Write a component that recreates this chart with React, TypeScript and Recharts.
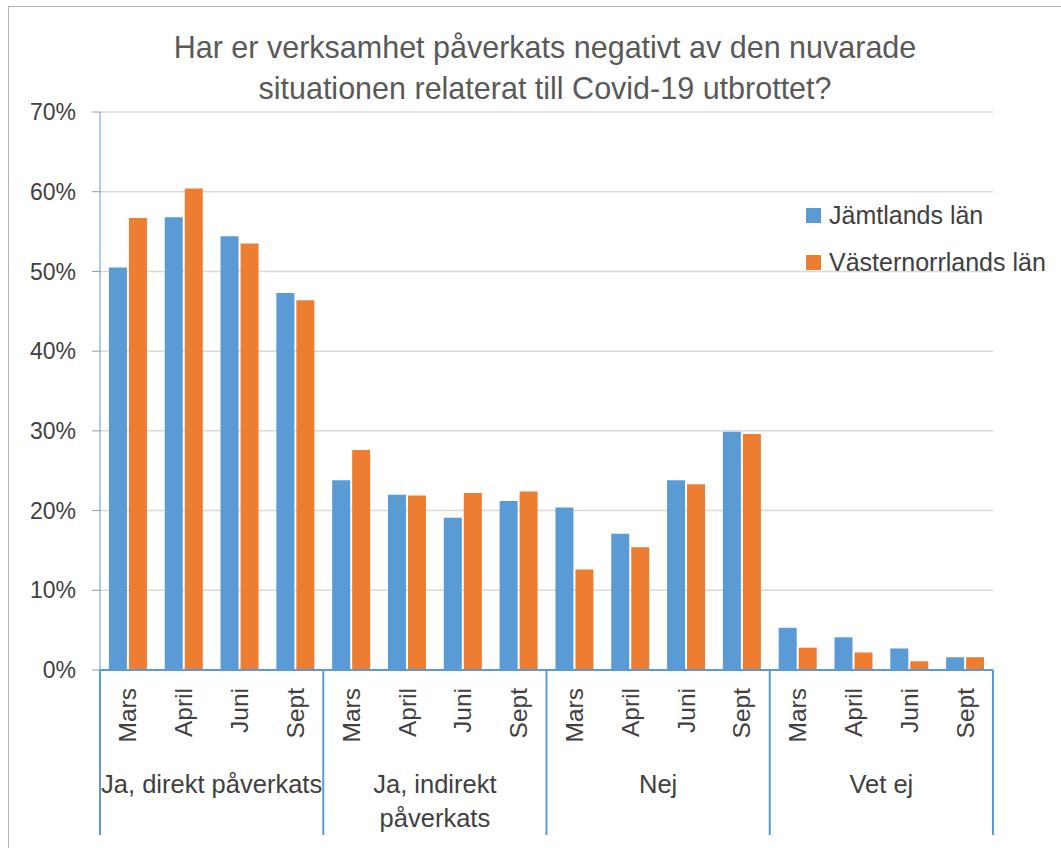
import React from 'react';
import { BarChart, Bar, XAxis, YAxis, CartesianGrid, Legend } from 'recharts';

const groups = ['Ja, direkt påverkats', 'Ja, indirekt\npåverkats', 'Nej', 'Vet ej'];
const months = ['Mars', 'April', 'Juni', 'Sept'];
const jamtland = [50.5, 56.8, 54.4, 47.3, 23.8, 22.0, 19.1, 21.2, 20.4, 17.1, 23.8, 29.9, 5.3, 4.1, 2.7, 1.6];
const vasternorrland = [56.7, 60.4, 53.5, 46.4, 27.6, 21.9, 22.2, 22.4, 12.6, 15.4, 23.3, 29.6, 2.8, 2.2, 1.1, 1.6];
const yTicks = [0, 10, 20, 30, 40, 50, 60, 70];

const data = groups.flatMap((g, gi) =>
  months.map((m, mi) => ({
    key: `${gi}-${m}`,
    month: m,
    group: g,
    jamtland: jamtland[gi * 4 + mi],
    vasternorrland: vasternorrland[gi * 4 + mi],
  }))
);

const FONT = '"Liberation Sans", Arial, sans-serif';
const BLUE = '#5b9bd5';
const ORANGE = '#ed7d31';
const TEXT = '#404040';

const XTick = (props: any) => {
  const { x, y, payload, index, width, visibleTicksCount } = props;
  const half = payload && payload.offset ? payload.offset : width / (2 * (visibleTicksCount || data.length));
  const row = data[index];
  if (!row) return null;
  const mi = index % 4;
  const lines = row.group.split('\n');
  return (
    <g>
      <text
        transform={`translate(${x},${y + 18}) rotate(-90)`}
        textAnchor="end"
        dy="0.35em"
        fontSize={24.5}
        fontFamily={FONT}
        fill={TEXT}
      >
        {row.month}
      </text>
      {mi === 0 && <line x1={x - half} x2={x - half} y1={y} y2={y + 165} stroke={BLUE} strokeWidth={2} />}
      {index === data.length - 1 && (
        <line x1={x + half} x2={x + half} y1={y} y2={y + 165} stroke={BLUE} strokeWidth={2} />
      )}
      {mi === 1 &&
        lines.map((l: string, i: number) => (
          <text
            key={i}
            x={x + half}
            y={y + 114 + i * 34}
            textAnchor="middle"
            dy="0.35em"
            fontSize={25.5}
            fontFamily={FONT}
            fill={TEXT}
          >
            {l}
          </text>
        ))}
    </g>
  );
};

const LegendBox = () => (
  <div style={{ fontFamily: FONT, fontSize: 25, color: TEXT }}>
    {[
      { name: 'Jämtlands län', color: BLUE },
      { name: 'Västernorrlands län', color: ORANGE },
    ].map((it) => (
      <div key={it.name} style={{ display: 'flex', alignItems: 'center', height: 47, whiteSpace: 'nowrap' }}>
        <span style={{ display: 'inline-block', width: 15, height: 15, background: it.color, marginRight: 8 }} />
        {it.name}
      </div>
    ))}
  </div>
);

export default function App() {
  return (
    <div
      style={{
        position: 'absolute',
        left: 0,
        top: 0,
        width: 1061,
        height: 848,
        overflow: 'hidden',
        background: '#fff',
      }}
    >
      <div
        style={{
          position: 'absolute',
          left: 8,
          top: 6,
          width: 1100,
          height: 900,
          borderLeft: '1.5px solid #b4b4b4',
          borderTop: '1.5px solid #b4b4b4',
        }}
      />
      <div
        style={{
          position: 'absolute',
          left: 0,
          width: 1090,
          top: 27,
          textAlign: 'center',
          fontFamily: FONT,
          fontSize: 30.5,
          lineHeight: '41px',
          color: '#595959',
        }}
      >
        Har er verksamhet påverkats negativt av den nuvarade
        <br />
        situationen relaterat till Covid-19 utbrottet?
      </div>
      <div style={{ position: 'absolute', left: 0, top: 0 }}>
        <BarChart
          width={1061}
          height={848}
          data={data}
          margin={{ top: 112, right: 68, bottom: 13, left: 0 }}
          barCategoryGap="16%"
          barGap={2}
        >
          <CartesianGrid vertical={false} stroke="#d9d9d9" strokeWidth={1.5} />
          <XAxis
            dataKey="key"
            interval={0}
            height={165}
            tickLine={false}
            tickSize={0}
            tickMargin={0}
            axisLine={{ stroke: BLUE, strokeWidth: 2 }}
            tick={<XTick />}
          />
          <YAxis
            domain={[0, 70]}
            ticks={yTicks}
            width={100}
            tickSize={8}
            tickMargin={16}
            tickFormatter={(v: number) => `${v}%`}
            axisLine={{ stroke: BLUE }}
            tickLine={{ stroke: '#7f9fc0' }}
            tick={{ fontSize: 23, fontFamily: FONT, fill: TEXT }}
          />
          <YAxis
            yAxisId="r"
            orientation="right"
            domain={[0, 70]}
            width={0}
            tick={false}
            tickLine={false}
            axisLine={{ stroke: '#d9d9d9', strokeWidth: 1.5 }}
          />
          <Legend
            layout="vertical"
            align="center"
            verticalAlign="middle"
            wrapperStyle={{ left: 806, top: 192, width: 'auto' }}
            content={<LegendBox />}
          />
          <Bar dataKey="jamtland" name="Jämtlands län" fill={BLUE} isAnimationActive={false} />
          <Bar dataKey="vasternorrland" name="Västernorrlands län" fill={ORANGE} isAnimationActive={false} />
        </BarChart>
      </div>
    </div>
  );
}
